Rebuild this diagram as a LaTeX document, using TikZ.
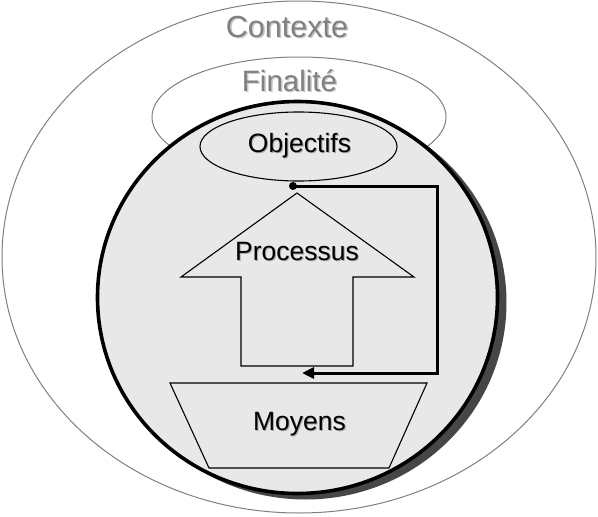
\documentclass[tikz,border=0pt]{standalone}
\usepackage{fontspec}
\setmainfont{Liberation Sans}
\usetikzlibrary{arrows.meta,shapes.geometric}
\definecolor{fillgray}{RGB}{232,232,232}
\definecolor{linegray}{RGB}{128,128,128}
\definecolor{shadowgray}{RGB}{70,70,70}
\definecolor{txtshadow}{RGB}{165,165,165}
\definecolor{lightshadow}{RGB}{200,200,200}
\begin{document}
\begin{tikzpicture}[x=1pt,y=-1pt,
  outerline/.style={draw=linegray,line width=1pt},
  thinline/.style={draw=black,line width=1.1pt},
  lbl/.style={inner sep=0,anchor=base,font=\fontsize{26.5}{30}\selectfont},
  biglbl/.style={inner sep=0,anchor=base},
  conn/.style={line width=3pt,line join=miter}]
\useasboundingbox (0,0) rectangle (598,517);
\fill[white] (0,0) rectangle (598,517);
% outer context ellipse
\draw[outerline] (299,257) ellipse [x radius=297, y radius=256];
% finalite ellipse
\draw[outerline] (299,117) ellipse [x radius=147, y radius=60];
% texts Contexte / Finalite
\node[biglbl,font=\fontsize{30.5}{34}\selectfont,text=lightshadow] at (288.5,38.5) {Contexte};
\node[biglbl,font=\fontsize{30.5}{34}\selectfont,text=linegray] (ctx) at (287,37) {Contexte};
\node[biglbl,font=\fontsize{29.5}{33}\selectfont,text=lightshadow] at (291,92.5) {Finalité};
\node[biglbl,font=\fontsize{29.5}{33}\selectfont,text=linegray] (fin) at (289.5,91) {Finalité};
% big circle with shadow
\fill[shadowgray] (305.5,302.5) ellipse [x radius=201, y radius=197];
\draw[fill=fillgray,line width=3.6pt] (297.5,297.5) ellipse [x radius=200, y radius=196];
% objectifs ellipse
\node[ellipse,thinline,minimum width=197,minimum height=69,inner sep=0] (objell) at (298.5,146.5) {};
% process arrow
\draw[thinline,line join=miter] (297,193) -- (414,277) -- (353,277) -- (353,366) -- (241,366) -- (241,277) -- (181,277) -- cycle;
% moyens trapezoid
\draw[thinline] (170,383) -- (427,383) -- (389,468) -- (209,468) -- cycle;
% labels
\node[lbl,text=txtshadow] at (300.5,153) {Objectifs};
\node[lbl] (obj) at (299.5,152) {Objectifs};
\node[lbl,text=txtshadow] at (298,261) {Processus};
\node[lbl] (proc) at (297,260) {Processus};
\node[lbl,text=txtshadow] at (300.5,431) {Moyens};
\node[lbl] (moy) at (299.5,430) {Moyens};
% connector
\node[circle,fill=black,inner sep=0,minimum size=8] (dot) at (293,186) {};
\coordinate (tipend) at (302,373);
\draw[conn,-{Triangle[length=12,width=11]}] (dot.center) -| (437,373) -- (tipend);
\end{tikzpicture}
\end{document}
